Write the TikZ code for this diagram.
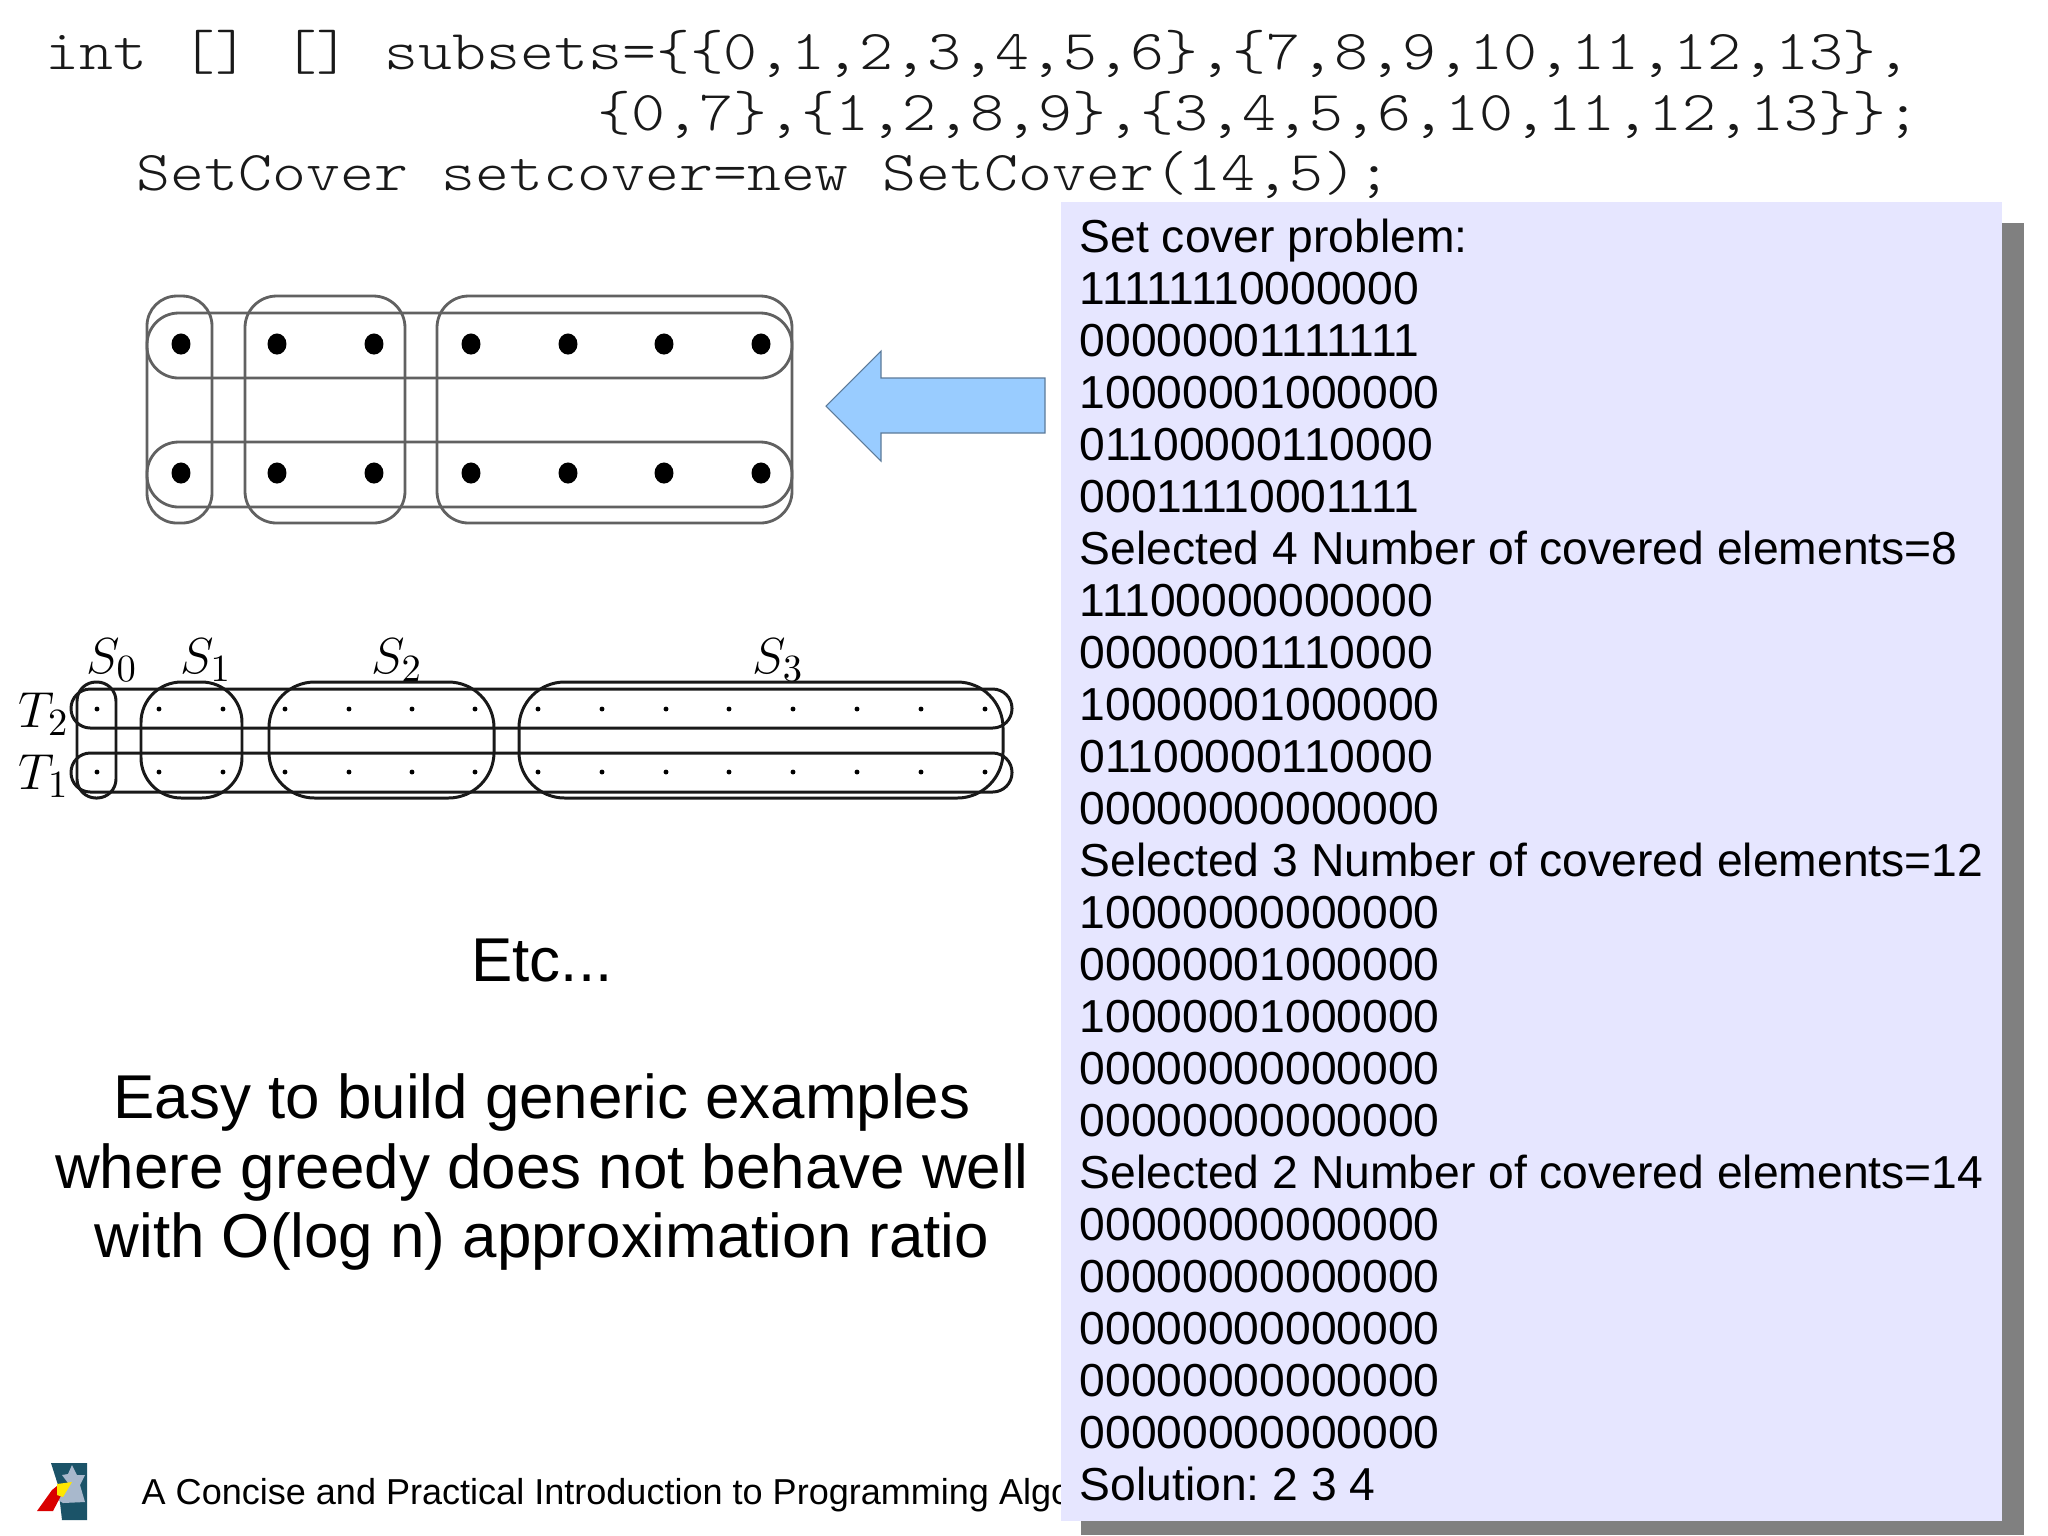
\documentclass[tikz,border=0pt]{standalone}
\usepackage{fontspec}
\setmainfont{Liberation Sans}
\setmonofont[FakeStretch=1.148]{Latin Modern Mono Light}
\usepackage{amsmath}
\usetikzlibrary{positioning,shapes.geometric}
\DeclareMathSizes{13.5}{13.5}{11}{9}
\definecolor{panelblue}{HTML}{E6E6FF}
\definecolor{arrowblue}{HTML}{99CCFF}
\definecolor{logoteal}{HTML}{1B5368}
\definecolor{logostar}{HTML}{A8B8CC}
\tikzset{
  codeline/.style={anchor=base west, inner sep=0pt, text=black!90, font=\ttfamily\fontsize{16}{17}\selectfont},
  bigline/.style={inner sep=0pt, align=center, font=\fontsize{17.6}{19.7}\selectfont},
  setline/.style={draw=black!62, line width=0.8pt},
  thinset/.style={draw=black!90, line width=0.85pt},
  bigdot/.style={fill, ellipse, inner sep=0pt, minimum width=5.4pt, minimum height=6pt},
  tinydot/.style={fill, circle, inner sep=0pt, minimum size=1.4pt},
  setname/.style={inner sep=0pt, font=\fontsize{13.5}{15}\selectfont}
}
\begin{document}
\frenchspacing
\begin{tikzpicture}[x=0.01cm, y=-0.01cm]
\useasboundingbox (0,0) rectangle (2048,1535);

% the java lines
\node [codeline] (code1) at (45,69) {int [] [] subsets=\{\{0,1,2,3,4,5,6\},\{7,8,9,10,11,12,13\},};
\node [codeline] (code2) at (597,130) {\{0,7\},\{1,2,8,9\},\{3,4,5,6,10,11,12,13\}\};};
\node [codeline] (code3) at (136,190) {SetCover setcover=new SetCover(14,5);};

\begin{scope}
\draw [setline, rounded corners=8.5pt] (147,296) rectangle (212,523);
\draw [setline, rounded corners=9pt] (245,296) rectangle (405,523);
\draw [setline, rounded corners=9pt] (437,296) rectangle (792,523);
\draw [setline, rounded corners=9pt] (147,313) rectangle (792,378);
\draw [setline, rounded corners=9pt] (147,442) rectangle (792,507);
\node [bigdot] (a0) at (181,344) {};
\node [bigdot] (a1) at (277,344) {};
\node [bigdot] (a2) at (374,344) {};
\node [bigdot] (a3) at (471,344) {};
\node [bigdot] (a4) at (568,344) {};
\node [bigdot] (a5) at (664,344) {};
\node [bigdot] (a6) at (761,344) {};
\node [bigdot] (b0) at (181,473) {};
\node [bigdot] (b1) at (277,473) {};
\node [bigdot] (b2) at (374,473) {};
\node [bigdot] (b3) at (471,473) {};
\node [bigdot] (b4) at (568,473) {};
\node [bigdot] (b5) at (664,473) {};
\node [bigdot] (b6) at (761,473) {};
\end{scope}

% block arrow
\draw [fill=arrowblue, draw=arrowblue!60!black, line width=0.3pt]
  (826,406) -- (881,351) -- (881,378) -- (1045,378) -- (1045,433) -- (881,433) -- (881,461) -- cycle;

\begin{scope}
\node [setname] (s0) at (112,660) {$S_0$};
\node [setname] (s1) at (206,660) {$S_1$};
\node [setname] (s2) at (397,660) {$S_2$};
\node [setname] (s3) at (778,660) {$S_3$};
\node [setname] (t2) at (44,714) {$T_2$};
\node [setname] (t1) at (44,776) {$T_1$};
\draw [thinset, rounded corners=5.4pt] (77,682) rectangle (116,798);
\draw [thinset, rounded corners=11.5pt] (141,682) rectangle (242,798);
\draw [thinset, rounded corners=13pt] (269,682) rectangle (494,798);
\draw [thinset, rounded corners=13pt] (519,682) rectangle (1003,798);
\draw [thinset, rounded corners=5.5pt] (71,689) rectangle (1012,728);
\draw [thinset, rounded corners=5.5pt] (71,753) rectangle (1012,792);
\node [tinydot] (c0) at (97,709) {};
\node [tinydot] (c1) at (159,709) {};
\node [tinydot] (c2) at (223,709) {};
\node [tinydot] (c3) at (285,709) {};
\node [tinydot] (c4) at (349,709) {};
\node [tinydot] (c5) at (412,709) {};
\node [tinydot] (c6) at (475,709) {};
\node [tinydot] (c7) at (538,709) {};
\node [tinydot] (c8) at (602,709) {};
\node [tinydot] (c9) at (666,709) {};
\node [tinydot] (c10) at (729,709) {};
\node [tinydot] (c11) at (793,709) {};
\node [tinydot] (c12) at (857,709) {};
\node [tinydot] (c13) at (921,709) {};
\node [tinydot] (c14) at (985,709) {};
\node [tinydot] (d0) at (97,772) {};
\node [tinydot] (d1) at (159,772) {};
\node [tinydot] (d2) at (223,772) {};
\node [tinydot] (d3) at (285,772) {};
\node [tinydot] (d4) at (349,772) {};
\node [tinydot] (d5) at (412,772) {};
\node [tinydot] (d6) at (475,772) {};
\node [tinydot] (d7) at (538,772) {};
\node [tinydot] (d8) at (602,772) {};
\node [tinydot] (d9) at (666,772) {};
\node [tinydot] (d10) at (729,772) {};
\node [tinydot] (d11) at (793,772) {};
\node [tinydot] (d12) at (857,772) {};
\node [tinydot] (d13) at (921,772) {};
\node [tinydot] (d14) at (985,772) {};
\end{scope}

\node [bigline] (etc) at (542,960) {Etc...};
\node [bigline] (easy) at (542,1172) {Easy to build generic examples\\where greedy does not behave well\\with O(log n) approximation ratio};

% logo
\fill [logoteal] (51,1463) -- (87,1463) -- (87,1520) -- (62,1520) -- (58,1485) -- cycle;
\fill [logostar] (72,1465) -- (77,1475) -- (85,1475) -- (80,1485) -- (85,1502) -- (63,1503) -- (58,1500) -- (68,1483) -- (62,1475) -- (68,1474) -- cycle;
\fill [red!85!black] (37,1511) -- (53,1511) -- (64,1490) -- (57,1486) -- (52,1490) -- cycle;
\fill [yellow!90!orange] (57,1484) -- (72,1482) -- (63,1497) -- (57,1495) -- cycle;

\node [anchor=base west, inner sep=0pt, font=\fontsize{10.25}{12}\selectfont] (foot) at (141,1504) {A Concise and Practical Introduction to Programming Algorithms};

% console output
\fill [black!50!white] (1081,223) rectangle (2024,1535);
\fill [panelblue] (1061,202) rectangle (2002,1521);
\node [anchor=north west, inner sep=0pt, align=left, font=\fontsize{13.15}{14.79}\selectfont] (output) at (1079,218) {%
Set cover problem:\\
11111110000000\\
00000001111111\\
10000001000000\\
01100000110000\\
00011110001111\\
Selected 4 Number of covered elements=8\\
11100000000000\\
00000001110000\\
10000001000000\\
01100000110000\\
00000000000000\\
Selected 3 Number of covered elements=12\\
10000000000000\\
00000001000000\\
10000001000000\\
00000000000000\\
00000000000000\\
Selected 2 Number of covered elements=14\\
00000000000000\\
00000000000000\\
00000000000000\\
00000000000000\\
00000000000000\\
Solution: 2 3 4};
\end{tikzpicture}
\end{document}
